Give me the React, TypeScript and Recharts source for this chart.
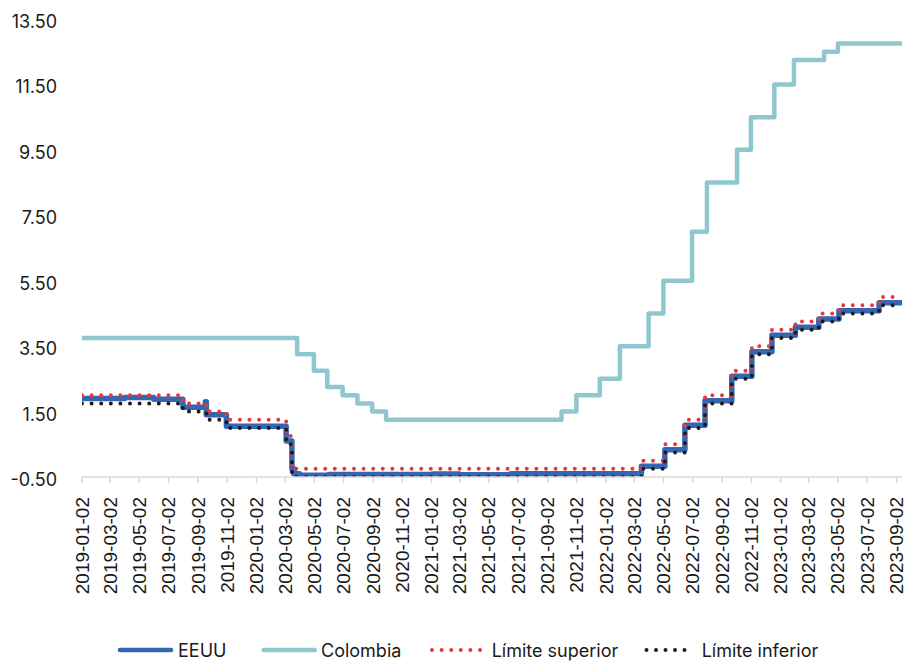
import React from "react";
import { LineChart, Line, XAxis, YAxis } from "recharts";

// ---- tick labels ----
const xTickLabels = [
  "2019-01-02", "2019-03-02", "2019-05-02", "2019-07-02", "2019-09-02", "2019-11-02",
  "2020-01-02", "2020-03-02", "2020-05-02", "2020-07-02", "2020-09-02", "2020-11-02",
  "2021-01-02", "2021-03-02", "2021-05-02", "2021-07-02", "2021-09-02", "2021-11-02",
  "2022-01-02", "2022-03-02", "2022-05-02", "2022-07-02", "2022-09-02", "2022-11-02",
  "2023-01-02", "2023-03-02", "2023-05-02", "2023-07-02", "2023-09-02",
];
const yTicks = [-0.5, 1.5, 3.5, 5.5, 7.5, 9.5, 11.5, 13.5];
const startDate = "2019-01-02";
const endDate = "2023-09-13";

// ---- series (change dates + values; step lines) ----
const colombiaDates = [
  "2019-01-02", "2020-03-27", "2020-05-01", "2020-05-29", "2020-06-30", "2020-07-31",
  "2020-08-31", "2020-09-29", "2021-10-01", "2021-11-01", "2021-12-20", "2022-01-31",
  "2022-04-01", "2022-05-02", "2022-07-01", "2022-08-01", "2022-10-03", "2022-11-01",
  "2022-12-20", "2023-01-30", "2023-04-03", "2023-05-02", "2023-09-13",
];
const colombiaValues = [
  3.75, 3.25, 2.75, 2.25, 2.0, 1.75,
  1.5, 1.25, 1.5, 2.0, 2.5, 3.5,
  4.5, 5.5, 7.0, 8.5, 9.5, 10.5,
  11.5, 12.25, 12.5, 12.75, 12.75,
];

const eeuuDates = [
  "2019-01-02", "2019-04-01", "2019-06-01", "2019-08-01", "2019-09-17", "2019-09-19",
  "2019-10-31", "2020-03-04", "2020-03-16", "2020-03-20", "2020-04-01", "2020-06-01",
  "2021-01-04", "2021-03-01", "2021-06-17", "2022-03-17", "2022-05-05", "2022-06-16",
  "2022-07-28", "2022-09-22", "2022-11-03", "2022-12-15", "2023-02-02", "2023-03-23",
  "2023-05-04", "2023-07-27", "2023-09-13",
];
const eeuuValues = [
  1.9, 1.93, 1.88, 1.63, 1.8, 1.4,
  1.05, 0.6, -0.25, -0.4, -0.45, -0.42,
  -0.41, -0.43, -0.4, -0.17, 0.33, 1.08,
  1.83, 2.58, 3.33, 3.83, 4.08, 4.33,
  4.58, 4.83, 4.83,
];

const limitDates = [
  "2019-01-02", "2019-08-01", "2019-09-19", "2019-10-31", "2020-03-04", "2020-03-16",
  "2022-03-17", "2022-05-05", "2022-06-16", "2022-07-28", "2022-09-22", "2022-11-03",
  "2022-12-15", "2023-02-02", "2023-03-23", "2023-05-04", "2023-07-27", "2023-09-13",
];
const upperValues = [
  2.0, 1.75, 1.5, 1.25, 0.75, -0.25,
  0.0, 0.5, 1.25, 2.0, 2.75, 3.5,
  4.0, 4.25, 4.5, 4.75, 5.0, 5.0,
];
const lowerValues = [
  1.75, 1.5, 1.25, 1.0, 0.5, -0.5,
  -0.25, 0.25, 1.0, 1.75, 2.5, 3.25,
  3.75, 4.0, 4.25, 4.5, 4.75, 4.75,
];

const seriesNames = ["EEUU", "Colombia", "Límite superior", "Límite inferior"];

// ---- helpers ----
const toDay = (s: string) => Date.parse(s + "T00:00:00Z") / 86400000;
const fmtDay = (v: number) => new Date(Math.round(v) * 86400000).toISOString().slice(0, 10);
const build = (dates: string[], values: number[]) =>
  dates.map((s, i) => ({ t: toDay(s), v: values[i] }));

const colombiaData = build(colombiaDates, colombiaValues);
const eeuuData = build(eeuuDates, eeuuValues);
const upperData = build(limitDates, upperValues);
const lowerData = build(limitDates, lowerValues);
const xTicks = xTickLabels.map(toDay);

const BLUE = "#3566b2";
const TEAL = "#8ec7cd";
const RED = "#e8383d";
const BLACK = "#1c1c1c";
const TEXT = "#1a1a1a";

const XTick = (props: any) => {
  const { x, y, payload } = props;
  return (
    <text
      x={x}
      y={y}
      transform={`rotate(-90 ${x} ${y})`}
      textAnchor="end"
      dominantBaseline="central"
      fontFamily="'Liberation Sans', Arial, sans-serif"
      fontSize={19}
      fill={TEXT}
    >
      {fmtDay(payload.value)}
    </text>
  );
};

const YTick = (props: any) => {
  const { x, y, payload } = props;
  return (
    <text
      x={x}
      y={y + 2.5}
      textAnchor="end"
      dominantBaseline="central"
      fontFamily="Inter, sans-serif"
      fontSize={18}
      fill={TEXT}
    >
      {Number(payload.value).toFixed(2)}
    </text>
  );
};

const LegendRow = () => (
  <svg width={909} height={30} style={{ position: "absolute", left: 0, top: 635 }}>
    <g fontFamily="Inter, sans-serif" fontSize={18} fill={TEXT}>
      <line x1={120} y1={15} x2={171} y2={15} stroke={BLUE} strokeWidth={4.5} strokeLinecap="round" />
      <text x={178} y={15} dominantBaseline="central">{seriesNames[0]}</text>
      <line x1={263.7} y1={15} x2={314.7} y2={15} stroke={TEAL} strokeWidth={4.5} strokeLinecap="round" />
      <text x={321} y={15} dominantBaseline="central">{seriesNames[1]}</text>
      <line x1={432} y1={15} x2={480.5} y2={15} stroke={RED} strokeWidth={4} strokeLinecap="round" strokeDasharray="0 9.6" />
      <text x={491.7} y={15} dominantBaseline="central">{seriesNames[2]}</text>
      <line x1={646.5} y1={15} x2={694} y2={15} stroke={BLACK} strokeWidth={4} strokeLinecap="round" strokeDasharray="0 9.5" />
      <text x={701.7} y={15} dominantBaseline="central">{seriesNames[3]}</text>
    </g>
  </svg>
);

export default function App() {
  return (
    <div style={{ position: "absolute", left: 0, top: 0, width: 909, height: 662, background: "#fff" }}>
      <LineChart
        width={909}
        height={662}
        margin={{ top: 19, right: 7, left: 0, bottom: 55 }}
      >
        <XAxis
          type="number"
          dataKey="t"
          domain={[toDay(startDate), toDay(endDate)]}
          ticks={xTicks}
          interval={0}
          height={130}
          tick={<XTick />}
          tickSize={6}
          tickMargin={14}
          axisLine={{ stroke: "#d9d9d9", strokeWidth: 1.5 }}
          tickLine={{ stroke: "#d9d9d9", strokeWidth: 1.5 }}
          allowDataOverflow
        />
        <YAxis
          type="number"
          domain={[-0.5, 13.5]}
          ticks={yTicks}
          interval={0}
          width={82}
          axisLine={false}
          tickLine={false}
          tickSize={0}
          tickMargin={25}
          tick={<YTick />}
          allowDataOverflow
        />
        <Line
          data={colombiaData}
          dataKey="v"
          name={seriesNames[1]}
          type="stepAfter"
          stroke={TEAL}
          strokeWidth={4.5}
          strokeLinejoin="round"
          strokeLinecap="round"
          dot={false}
          activeDot={false}
          isAnimationActive={false}
        />
        <Line
          data={eeuuData}
          dataKey="v"
          name={seriesNames[0]}
          type="stepAfter"
          stroke={BLUE}
          strokeWidth={5.5}
          strokeLinejoin="round"
          strokeLinecap="round"
          dot={false}
          activeDot={false}
          isAnimationActive={false}
        />
        <Line
          data={upperData}
          dataKey="v"
          name={seriesNames[2]}
          type="stepAfter"
          stroke={RED}
          strokeWidth={4}
          strokeLinecap="round"
          strokeDasharray="0 9.6"
          dot={false}
          activeDot={false}
          isAnimationActive={false}
        />
        <Line
          data={lowerData}
          dataKey="v"
          name={seriesNames[3]}
          type="stepAfter"
          stroke={BLACK}
          strokeWidth={4}
          strokeLinecap="round"
          strokeDasharray="0 9.6"
          dot={false}
          activeDot={false}
          isAnimationActive={false}
        />
      </LineChart>
      <LegendRow />
    </div>
  );
}
